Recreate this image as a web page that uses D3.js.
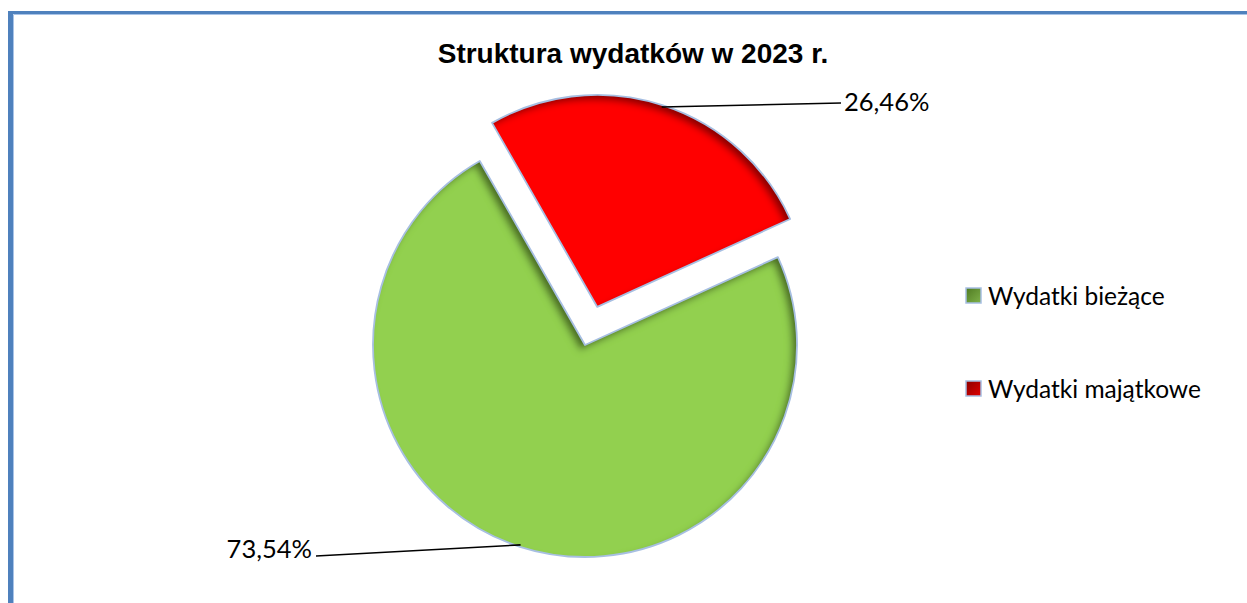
<!DOCTYPE html>
<html><head><meta charset="utf-8">
<script src="https://cdn.jsdelivr.net/npm/d3@7"></script>
<style>html,body{margin:0;padding:0;background:#fff;overflow:hidden}</style>
</head><body>
<svg id="chart" width="1247" height="603"></svg>
<script>
const title = "Struktura wydatków w 2023 r.";
const categories = ["Wydatki bieżące", "Wydatki majątkowe"];
const values = [73.54, 26.46];
const labels = ["73,54%", "26,46%"];
const colors = ["#92d050", "#ff0000"];
const legendColors = [["#4f7a22", "#7fb24a"], ["#8b0000", "#e00000"]];
const explode = [0, 40];

const svg = d3.select("#chart");
const W = 1247, H = 603;
const cx = 585, cy = 345, R = 212;
const startDeg = 65.5;

const defs = svg.append("defs");
const f = defs.append("filter").attr("id", "innerShadow")
  .attr("x", "-10%").attr("y", "-10%").attr("width", "120%").attr("height", "120%");
f.append("feOffset").attr("in", "SourceAlpha").attr("dx", -5).attr("dy", 5).attr("result", "off");
f.append("feGaussianBlur").attr("in", "off").attr("stdDeviation", 3.5).attr("result", "blur");
f.append("feComposite").attr("in", "SourceAlpha").attr("in2", "blur").attr("operator", "out").attr("result", "inv");
f.append("feFlood").attr("flood-color", "#000").attr("flood-opacity", 0.75).attr("result", "fl");
f.append("feComposite").attr("in", "fl").attr("in2", "inv").attr("operator", "in").attr("result", "shadow");
const fm = f.append("feMerge");
fm.append("feMergeNode").attr("in", "SourceGraphic");
fm.append("feMergeNode").attr("in", "shadow");

legendColors.forEach((c, i) => {
  const g = defs.append("linearGradient").attr("id", "lg" + i)
    .attr("x1", "0").attr("y1", "0").attr("x2", "1").attr("y2", "1");
  g.append("stop").attr("offset", "0").attr("stop-color", c[0]);
  g.append("stop").attr("offset", "1").attr("stop-color", c[1]);
});

// frame
svg.append("rect").attr("x", 8).attr("y", 11).attr("width", W).attr("height", 3).attr("fill", "#4f81bd");
svg.append("rect").attr("x", 8).attr("y", 11).attr("width", 5).attr("height", H).attr("fill", "#4f81bd");
svg.append("line").attr("x1", 13.5).attr("y1", 14.5).attr("x2", W).attr("y2", 14.5).attr("stroke", "#a9c4e8").attr("stroke-width", 1);
svg.append("line").attr("x1", 13.5).attr("y1", 14.5).attr("x2", 13.5).attr("y2", H).attr("stroke", "#a9c4e8").attr("stroke-width", 1);

svg.append("text").attr("x", 633).attr("y", 63).attr("text-anchor", "middle")
  .attr("font-family", "Liberation Sans, Arial, sans-serif").attr("font-weight", "bold")
  .attr("font-size", 28).attr("fill", "#000").text(title);

const pie = d3.pie().sort(null).value(d => d)
  .startAngle(startDeg * Math.PI / 180).endAngle((startDeg + 360) * Math.PI / 180);
const arcs = pie(values);
const arc = d3.arc().innerRadius(0).outerRadius(R);

const slices = svg.append("g").selectAll("g").data(arcs).join("g")
  .attr("transform", (d, i) => {
    const m = (d.startAngle + d.endAngle) / 2;
    return `translate(${cx + Math.sin(m) * explode[i]},${cy - Math.cos(m) * explode[i]})`;
  });
slices.append("path").attr("d", arc).attr("fill", (d, i) => colors[i]).attr("filter", "url(#innerShadow)");
slices.append("path").attr("d", arc).attr("fill", "none").attr("stroke", "#a7bfe2").attr("stroke-width", 1.8).attr("stroke-linejoin", "round");

// labels with leader lines
const labelPos = [[312, 558, "end"], [844, 111, "start"]];
const lineEnd = [[316, 556], [841, 103]];
arcs.forEach((d, i) => {
  const m = (d.startAngle + d.endAngle) / 2;
  const ox = cx + Math.sin(m) * explode[i], oy = cy - Math.cos(m) * explode[i];
  const r = R - 2;
  const sx = ox + Math.sin(m) * r, sy = oy - Math.cos(m) * r;
  svg.append("line").attr("x1", sx).attr("y1", sy).attr("x2", lineEnd[i][0]).attr("y2", lineEnd[i][1])
    .attr("stroke", "#000").attr("stroke-width", 1.6);
  svg.append("text").attr("x", labelPos[i][0]).attr("y", labelPos[i][1]).attr("text-anchor", labelPos[i][2])
    .attr("font-family", "Lato, sans-serif").attr("font-size", 25.5).attr("fill", "#000").text(labels[i]);
});

// legend
const leg = svg.append("g").selectAll("g").data(categories).join("g")
  .attr("transform", (d, i) => `translate(966,${288 + i * 93})`);
leg.append("rect").attr("width", 15).attr("height", 15).attr("fill", (d, i) => `url(#lg${i})`)
  .attr("stroke", "#a7bfe2").attr("stroke-width", 1.5);
leg.append("text").attr("x", 22).attr("y", 17).attr("font-family", "Lato, sans-serif")
  .attr("font-size", 24.5).attr("fill", "#000").text(d => d);
</script>
</body></html>
